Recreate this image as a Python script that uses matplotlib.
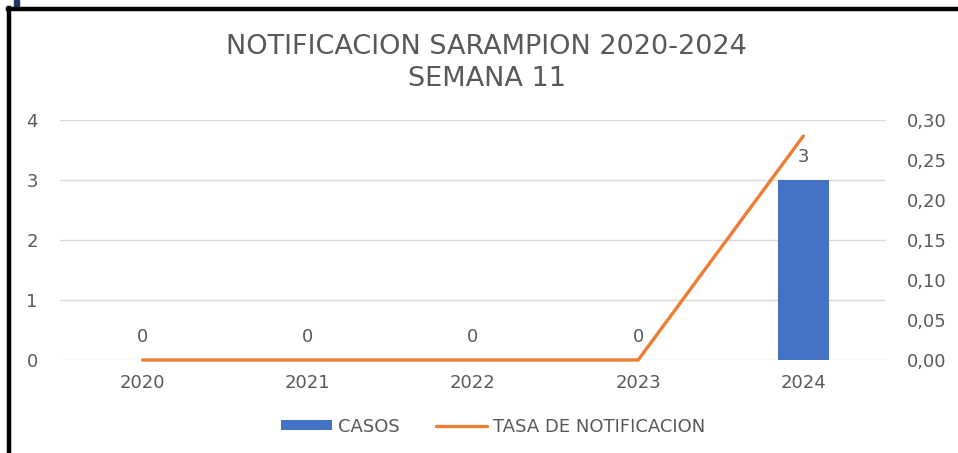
import matplotlib
matplotlib.use("Agg")
import matplotlib.pyplot as plt
from matplotlib.lines import Line2D
from matplotlib.patches import Rectangle
from matplotlib.ticker import FuncFormatter

# datos
years = ["2020", "2021", "2022", "2023", "2024"]
casos = [0, 0, 0, 0, 3]
tasa = [0, 0, 0, 0, 0.28]

gray = "#595959"
blue = "#4472C4"
orange = "#ED7D31"

fig = plt.figure(figsize=(9.58, 4.53), dpi=100)
ax = fig.add_axes([0.0626, 0.2053, 0.8622, 0.5298])
ax2 = ax.twinx()

x = range(len(years))
bars = ax.bar(x, casos, width=0.31, color=blue, label="CASOS", zorder=2)
ax.bar_label(bars, padding=10, fontsize=13, color=gray)
ax2.plot(x, tasa, color=orange, lw=2.4, label="TASA DE NOTIFICACION",
         solid_capstyle="round", clip_on=False, zorder=3)

ax.set_xlim(-0.5, len(years) - 0.5)
ax.set_ylim(0, 4)
ax.set_yticks([0, 1, 2, 3, 4])
ax2.set_ylim(0, 0.3)
ax2.set_yticks([0, 0.05, 0.10, 0.15, 0.20, 0.25, 0.30])
ax2.yaxis.set_major_formatter(FuncFormatter(lambda v, p: f"{v:.2f}".replace(".", ",")))
ax.set_xticks(list(x))
ax.set_xticklabels(years)

ax.grid(axis="y", color="#d9d9d9", lw=1, zorder=0)
ax.set_axisbelow(True)
for a in (ax, ax2):
    for s in a.spines.values():
        s.set_visible(False)
    a.tick_params(length=0, labelsize=13, labelcolor=gray)
ax.tick_params(axis="y", pad=16)
ax.tick_params(axis="x", pad=10)
ax2.tick_params(axis="y", pad=15)

fig.text(0.508, 0.861, "NOTIFICACION SARAMPION 2020-2024\nSEMANA 11", ha="center",
         va="center", fontsize=19.5, color=gray, linespacing=1.28)

h1, l1 = ax.get_legend_handles_labels()
h2, l2 = ax2.get_legend_handles_labels()
fig.legend(h1 + h2, l1 + l2, loc="center", bbox_to_anchor=(0.515, 0.058), ncol=2,
           frameon=False, fontsize=13, labelcolor=gray, handlelength=2.8,
           handleheight=0.5, handletextpad=0.35, columnspacing=2.0)

# marco
fig.add_artist(Line2D([0.0085, 1.0], [0.980, 0.980], color="black", lw=3.2))
fig.add_artist(Line2D([0.0089, 0.0089], [0.0, 0.982], color="black", lw=3.2))
fig.add_artist(Rectangle((0.0146, 0.985), 0.0052, 0.015, color="#1F3864"))

fig.savefig("out.png", dpi=100)
